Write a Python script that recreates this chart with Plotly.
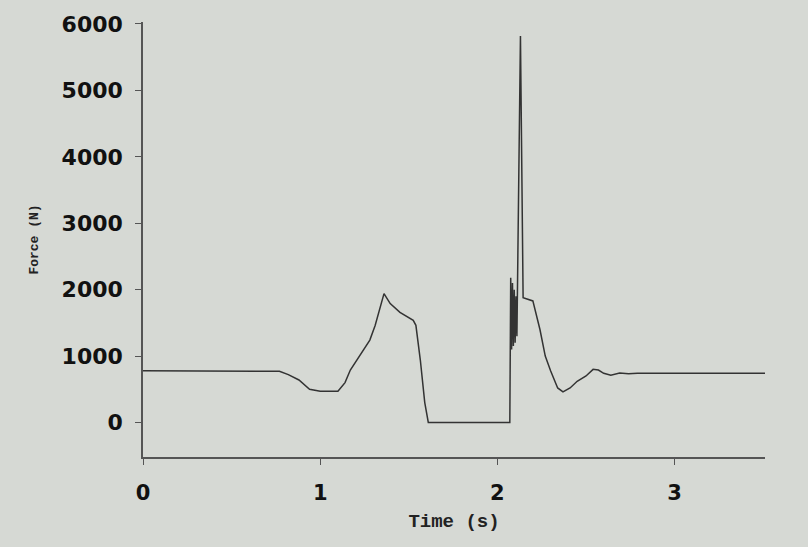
import plotly.graph_objects as go

time_s = [0.00, 0.70, 0.77, 0.82, 0.88, 0.94, 1.00, 1.10, 1.14, 1.17, 1.23, 1.28, 1.31, 1.36,
          1.395, 1.45, 1.525, 1.54, 1.565, 1.59, 1.61, 2.07, 2.075, 2.08, 2.085, 2.09, 2.095,
          2.10, 2.105, 2.11, 2.13, 2.145, 2.20, 2.24, 2.27, 2.30, 2.34, 2.37, 2.41, 2.45,
          2.50, 2.54, 2.57, 2.60, 2.64, 2.69, 2.74, 2.79, 3.51]
force_n = [780, 780, 770, 720, 640, 500, 470, 470, 600, 790, 1045, 1240, 1460, 1940,
           1790, 1657, 1537, 1463, 940, 300, 0, 0, 2180, 1100, 2100, 1150, 2000,
           1200, 1900, 1300, 5820, 1880, 1830, 1400, 1000, 780, 520, 460, 520, 620,
           700, 800, 790, 740, 710, 745, 735, 740, 740]

x_ticks = [0, 1, 2, 3]
y_ticks = [0, 1000, 2000, 3000, 4000, 5000, 6000]

fig = go.Figure()
fig.add_trace(go.Scatter(x=time_s, y=force_n, mode="lines",
                         line=dict(color="#333333", width=1.5), showlegend=False))

bg = "#d6d9d4"
fig.update_layout(
    width=808, height=547,
    margin=dict(l=143, r=43, t=22, b=90),
    paper_bgcolor=bg, plot_bgcolor=bg,
    font=dict(family="DejaVu Sans", color="#111111"),
)
fig.update_xaxes(
    range=[0, 3.51], tickvals=x_ticks, ticktext=[str(v) for v in x_ticks],
    showgrid=False, zeroline=False, showline=True, linecolor="#555555", linewidth=1.5,
    ticks="outside", ticklen=6, tickcolor="#555555", ticklabelstandoff=10,
    tickfont=dict(family="DejaVu Sans", size=21, color="#111111", weight="bold"),
    title=dict(text="Time (s)", standoff=10,
               font=dict(family="Liberation Mono", size=19, color="#222222", weight="bold")),
)
fig.update_yaxes(
    range=[-520, 6030], tickvals=y_ticks, ticktext=[str(v) for v in y_ticks],
    showgrid=False, zeroline=False, showline=True, linecolor="#555555", linewidth=1.5,
    ticks="outside", ticklen=6, tickcolor="#555555", ticklabelstandoff=8,
    tickfont=dict(family="DejaVu Sans", size=22, color="#111111", weight="bold"),
    title=dict(text="Force (N)", standoff=20,
               font=dict(family="Liberation Mono", size=13, color="#222222", weight="bold")),
)
fig.write_html("out.html", config={"displayModeBar": False},
               post_script="document.body.style.margin='0';document.body.style.background='%s';" % bg)
